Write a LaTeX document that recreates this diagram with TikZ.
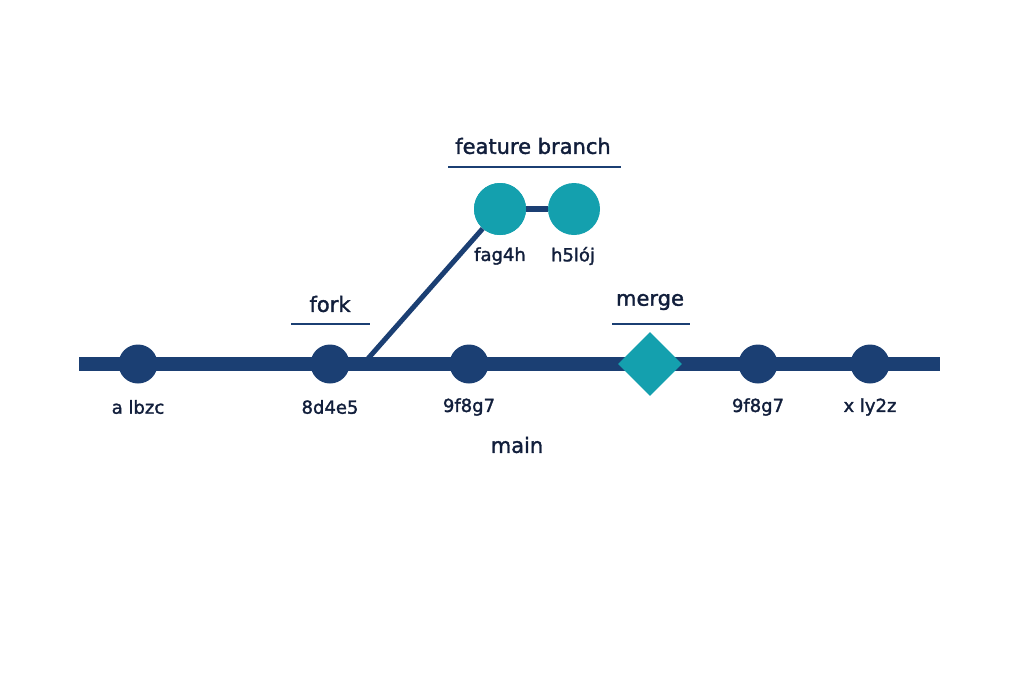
\documentclass[tikz,border=0pt]{standalone}
\usepackage{fontspec}
\setmainfont{DejaVu Sans}[FakeBold=1.6]
\usetikzlibrary{shapes.geometric}
\definecolor{navy}{HTML}{1B3F73}
\definecolor{teal}{HTML}{14A0AE}
\definecolor{ink}{HTML}{111E3B}
\tikzset{
  commit/.style={circle,fill=navy,minimum size=39pt,inner sep=0pt},
  fcommit/.style={circle,fill=teal,minimum size=52pt,inner sep=0pt},
  mergenode/.style={diamond,fill=teal,minimum size=64pt,inner sep=0pt},
  lbl/.style={text=ink,font=\fontsize{18}{20}\selectfont,inner sep=0pt},
  head/.style={text=ink,font=\fontsize{21}{24}\selectfont,inner sep=0pt},
  rule/.style={draw=navy,line width=1.8pt},
}
\begin{document}
\begin{tikzpicture}[x=1pt,y=-1pt]
\useasboundingbox (0,0) rectangle (1024,683);
\coordinate (L) at (79,364);
\coordinate (R) at (940,364);
\draw[navy,line width=14pt] (L) -- (R);
\node[commit] (c1) at (138,364) {};
\node[commit] (c2) at (330,364) {};
\node[commit] (c3) at (469,364) {};
\node[mergenode] (m) at (650,364) {};
\node[commit] (c4) at (758,364) {};
\node[commit] (c5) at (870,364) {};
\node[fcommit] (f1) at (500,209) {};
\node[fcommit] (f2) at (574,209) {};
\coordinate (forkpt) at (365,362);
\draw[navy,line width=5pt] (forkpt) -- (f1);
\draw[navy,line width=6pt] (f1) -- (f2);
\node[fcommit] at (500,209) {};
\node[lbl] (t1) at (138,407) {a lbzc};
\node[lbl] (t2) at (330,407) {8d4e5};
\node[lbl] (t3) at (469,407) {9f8g7};
\node[lbl] (t4) at (758,407) {9f8g7};
\node[lbl] (t5) at (870,407) {x ly2z};
\node[lbl] (tf1) at (500,256) {fag4h};
\node[lbl] (tf2) at (573,256) {h5lój};
\node[head] (main) at (517,445) {main};
\node[head] (fork) at (330,304) {fork};
\node[head] (merge) at (650,302) {merge};
\node[head] (fb) at (533,146) {feature branch};
\coordinate (u1a) at (291,324); \coordinate (u1b) at (370,324);
\coordinate (u2a) at (612,324); \coordinate (u2b) at (690,324);
\coordinate (u3a) at (448,167); \coordinate (u3b) at (621,167);
\draw[rule] (u1a) -- (u1b);
\draw[rule] (u2a) -- (u2b);
\draw[rule] (u3a) -- (u3b);
\end{tikzpicture}
\end{document}
